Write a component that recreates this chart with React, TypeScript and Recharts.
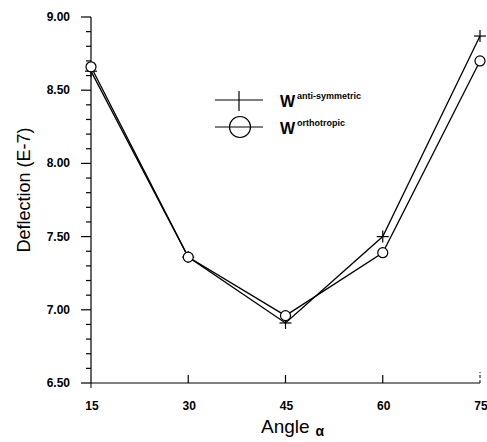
import React from 'react';
import { LineChart, Line, XAxis, YAxis, Legend } from 'recharts';

const angles = [15, 30, 45, 60, 75];
const antiSymmetric = [8.63, 7.36, 6.91, 7.5, 8.87];
const orthotropic = [8.66, 7.36, 6.96, 7.39, 8.7];
const xTicks = [15, 30, 45, 60, 75];
const yTicks = [6.5, 6.6, 6.7, 6.8, 6.9, 7.0, 7.1, 7.2, 7.3, 7.4, 7.5, 7.6, 7.7, 7.8, 7.9, 8.0, 8.1, 8.2, 8.3, 8.4, 8.5, 8.6, 8.7, 8.8, 8.9, 9.0];

const data = angles.map((a, i) => ({ angle: a, anti: antiSymmetric[i], ortho: orthotropic[i] }));

const FONT = 'Liberation Sans, Arial, sans-serif';

const YTick = (props: any) => {
  const { x, y, payload } = props;
  const v = payload.value;
  const major = Math.abs(v * 2 - Math.round(v * 2)) < 1e-6;
  if (major) {
    return (
      <g>
        <line x1={x - 10} y1={y} x2={x} y2={y} stroke="#000" strokeWidth={1.2} />
        <text x={x - 21} y={y + 4} textAnchor="end" fontSize={12} fontWeight="bold" fontFamily={FONT} fill="#000">
          {v.toFixed(2)}
        </text>
      </g>
    );
  }
  return <line x1={x - 5} y1={y} x2={x} y2={y} stroke="#000" strokeWidth={1.2} />;
};

const XTick = (props: any) => {
  const { x, y, payload } = props;
  const v = payload.value;
  return (
    <g>
      {v === 75 ? (
        <line x1={x} y1={y} x2={x} y2={y - 11} stroke="#000" strokeWidth={1} strokeDasharray="3 2" />
      ) : v === 15 ? (
        <line x1={x} y1={y + 5} x2={x} y2={y} stroke="#000" strokeWidth={1} />
      ) : (
        <line x1={x} y1={y} x2={x} y2={y - 8} stroke="#000" strokeWidth={1.2} />
      )}
      <text x={x + 1} y={y + 27} textAnchor="middle" fontSize={12} fontWeight="bold" fontFamily={FONT} fill="#000">
        {v}
      </text>
    </g>
  );
};

const PlusDot = (props: any) => {
  const { cx, cy } = props;
  if (cx == null || cy == null) return null;
  return (
    <g>
      <line x1={cx - 6} y1={cy} x2={cx + 6} y2={cy} stroke="#000" strokeWidth={1.2} />
      <line x1={cx} y1={cy - 6} x2={cx} y2={cy + 6} stroke="#000" strokeWidth={1.2} />
    </g>
  );
};

const CircleDot = (props: any) => {
  const { cx, cy } = props;
  if (cx == null || cy == null) return null;
  return <circle cx={cx} cy={cy} r={5} fill="#fff" stroke="#000" strokeWidth={1.2} />;
};

const LegendContent = () => (
  <svg width={170} height={60} style={{ display: 'block' }}>
    <g transform="translate(-210,-85)">
      <line x1={215} y1={100} x2={263} y2={100} stroke="#000" strokeWidth={1.2} />
      <line x1={239} y1={91} x2={239} y2={111} stroke="#000" strokeWidth={1.2} />
      <text x={280} y={107} fontSize={16} fontWeight="bold" fontFamily={FONT} fill="#000">W</text>
      <text x={297} y={99} fontSize={9} fontWeight="bold" fontFamily={FONT} fill="#000">anti-symmetric</text>
      <line x1={215} y1={127} x2={263} y2={127} stroke="#000" strokeWidth={1.2} />
      <circle cx={240} cy={127} r={10.5} fill="none" stroke="#000" strokeWidth={1.2} />
      <text x={280} y={134} fontSize={16} fontWeight="bold" fontFamily={FONT} fill="#000">W</text>
      <text x={297} y={126} fontSize={9} fontWeight="bold" fontFamily={FONT} fill="#000">orthotropic</text>
    </g>
  </svg>
);

const YLabel = (props: any) => (
  <text x={30} y={190} textAnchor="middle" fontSize={18} fontFamily={FONT} fill="#000" transform="rotate(-90, 30, 190)">
    Deflection (E-7)
  </text>
);

const XLabel = (props: any) => (
  <text x={261} y={433} fontSize={19} fontFamily={FONT} fill="#000">
    Angle
    <tspan dx={6} dy={3} fontSize={14} fontWeight="bold">α</tspan>
  </text>
);

export default function App() {
  return (
    <div style={{ position: 'absolute', left: 0, top: 0, width: 487, height: 442, background: '#fff' }}>
      <LineChart width={487} height={442} data={data} margin={{ top: 17, right: 7, bottom: 0, left: 31 }}>
        <XAxis
          dataKey="angle"
          type="number"
          domain={[15, 75]}
          ticks={xTicks}
          tick={<XTick />}
          tickLine={false}
          tickSize={0}
          tickMargin={0}
          height={59}
          axisLine={{ stroke: '#000', strokeWidth: 1.2 }}
          label={<XLabel />}
          interval={0}
        />
        <YAxis
          type="number"
          domain={[6.5, 9]}
          ticks={yTicks}
          tick={<YTick />}
          tickLine={false}
          tickSize={0}
          tickMargin={0}
          width={60}
          axisLine={{ stroke: '#000', strokeWidth: 1.2 }}
          label={<YLabel />}
          interval={0}
        />
        <Legend
          layout="horizontal"
          verticalAlign="middle"
          align="center"
          content={<LegendContent />}
          wrapperStyle={{ position: 'absolute', left: 210, top: 85, width: 170, height: 60 }}
        />
        <Line
          type="linear"
          dataKey="anti"
          stroke="#000"
          strokeWidth={1.3}
          dot={<PlusDot />}
          isAnimationActive={false}
        />
        <Line
          type="linear"
          dataKey="ortho"
          stroke="#000"
          strokeWidth={1.3}
          dot={<CircleDot />}
          isAnimationActive={false}
        />
      </LineChart>
    </div>
  );
}
